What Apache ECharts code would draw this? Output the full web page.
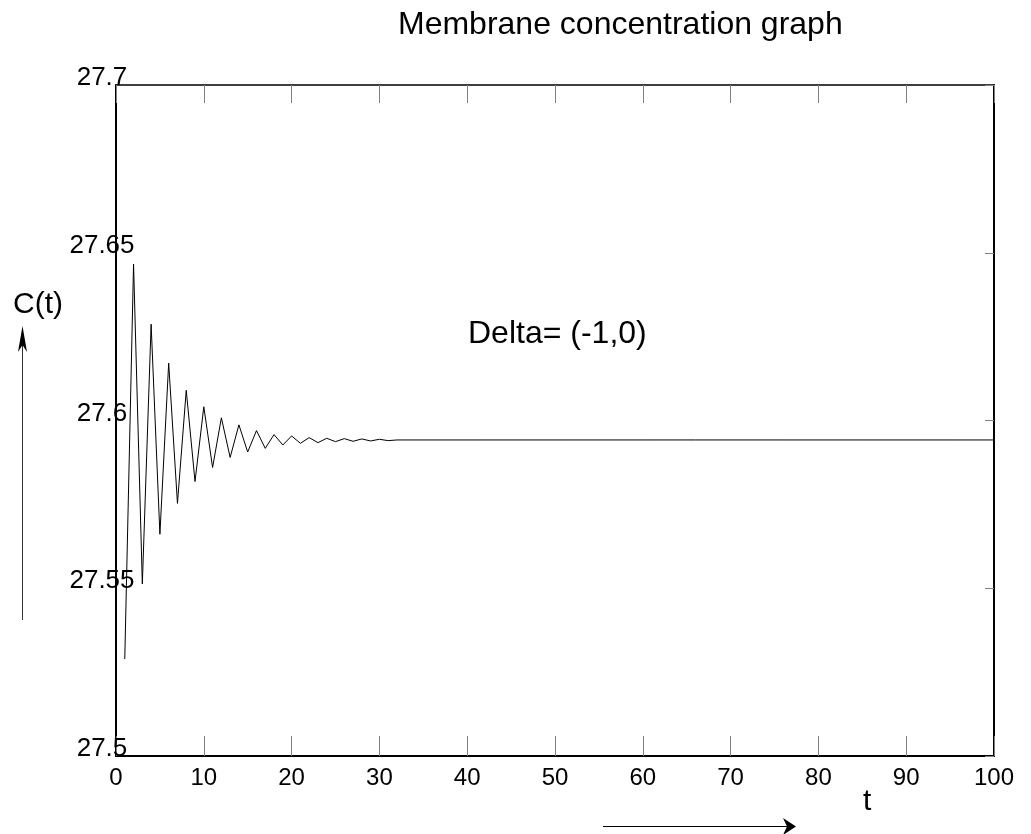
<!DOCTYPE html>
<html>
<head>
<meta charset="utf-8">
<script src="https://cdn.jsdelivr.net/npm/echarts@6/dist/echarts.min.js"></script>
<style>
html,body{margin:0;padding:0;background:#fff;}
#chart{width:1031px;height:834px;}
</style>
</head>
<body>
<div id="chart"></div>
<script>
// ---- data ----
const tValues = [1,2,3,4,5,6,7,8,9,10,11,12,13,14,15,16,17,18,19,20,21,22,23,24,25,26,27,28,29,30,31,32,100];
const cValues = [27.5289,27.6466,27.5513,27.6287,27.5661,27.6171,27.5753,27.6090,27.5818,27.6041,
                 27.5860,27.6008,27.5890,27.5987,27.5906,27.5970,27.5917,27.5958,27.5927,27.5954,
                 27.5932,27.5949,27.5934,27.5947,27.5937,27.5946,27.5938,27.5945,27.5939,27.5944,
                 27.5940,27.5942,27.5942];
const xTicks = [0,10,20,30,40,50,60,70,80,90,100];
const yTicks = [27.5,27.55,27.6,27.65,27.7];
const titleText = 'Membrane concentration graph';
const annotation = 'Delta= (-1,0)';
const yName = 'C(t)';
const xName = 't';

const FONT = 'Liberation Sans, Arial, sans-serif';
const chart = echarts.init(document.getElementById('chart'), null, {renderer:'canvas'});
const pts = tValues.map((t,i)=>[t,cValues[i]]);

chart.setOption({
  backgroundColor:'#ffffff',
  animation:false,
  grid:{left:116,right:37,top:85,bottom:78,containLabel:false},
  title:{text:titleText,left:398,top:9,padding:0,
    textStyle:{fontFamily:FONT,fontSize:32,fontWeight:'normal',color:'#000'}},
  xAxis:[{
    type:'value',position:'bottom',min:xTicks[0],max:xTicks[xTicks.length-1],interval:10,
    axisLine:{onZero:false,lineStyle:{color:'#000',width:2}},
    axisTick:{inside:true,length:20,lineStyle:{color:'#808080',width:1}},
    axisLabel:{margin:10,fontFamily:FONT,fontSize:24,color:'#000',
      formatter:v=>String(v)},
    splitLine:{show:false}
  },{
    type:'value',position:'top',min:xTicks[0],max:xTicks[xTicks.length-1],interval:10,
    axisLine:{onZero:false,lineStyle:{color:'#000',width:1.5}},
    axisTick:{inside:true,length:18,lineStyle:{color:'#808080',width:1}},
    axisLabel:{show:false},splitLine:{show:false}
  }],
  yAxis:[{
    type:'value',position:'left',min:yTicks[0],max:yTicks[yTicks.length-1],interval:0.05,
    axisLine:{onZero:false,lineStyle:{color:'#000',width:2}},
    axisTick:{show:false},
    axisLabel:{margin:14,align:'center',verticalAlign:'bottom',lineHeight:14,
      fontFamily:FONT,fontSize:26,color:'#000',
      formatter:v=>String(+(+v).toFixed(2))},
    splitLine:{show:false}
  },{
    type:'value',position:'right',min:yTicks[0],max:yTicks[yTicks.length-1],interval:0.05,
    axisLine:{onZero:false,lineStyle:{color:'#000',width:2}},
    axisTick:{inside:true,length:9,lineStyle:{color:'#808080',width:1}},
    axisLabel:{show:false},splitLine:{show:false}
  }],
  series:[{
    type:'line',xAxisIndex:0,yAxisIndex:0,data:pts,showSymbol:false,symbol:'none',
    lineStyle:{color:'#000',width:1},silent:true
  }],
  graphic:[
    {type:'text',left:468,top:318,style:{text:annotation,font:'32px '+FONT,fill:'#000'}},
    {type:'text',left:13,top:290,style:{text:yName,font:'30px '+FONT,fill:'#000'}},
    {type:'text',left:863,top:787,style:{text:xName,font:'30px '+FONT,fill:'#000'}},
    {type:'line',shape:{x1:22.5,y1:620,x2:22.5,y2:340},style:{stroke:'#333',lineWidth:1}},
    {type:'polygon',shape:{points:[[22.5,326],[18,352],[22.5,345],[27,352]]},style:{fill:'#000'}},
    {type:'line',shape:{x1:603,y1:826.5,x2:788,y2:826.5},style:{stroke:'#000',lineWidth:1}},
    {type:'polygon',shape:{points:[[796,826.5],[783,818],[787,826.5],[783,835]]},style:{fill:'#000'}}
  ]
});
</script>
</body>
</html>
